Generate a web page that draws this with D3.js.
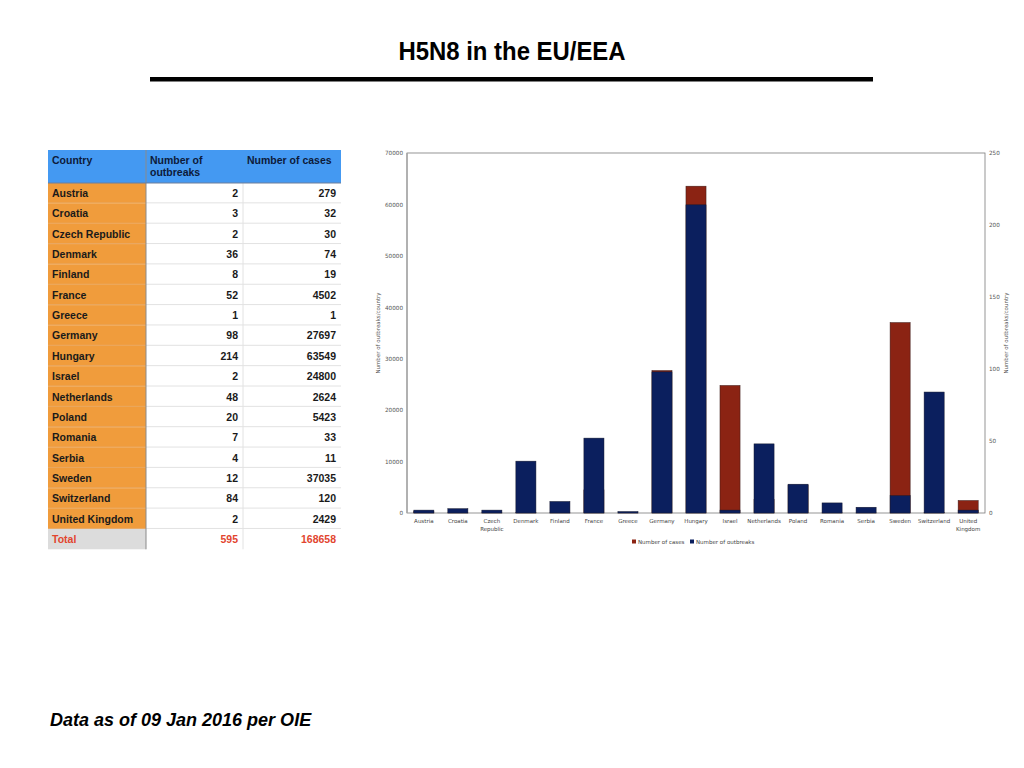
<!DOCTYPE html>
<html>
<head>
    <title>H5N8 in the EU/EEA</title>
    <meta charset="utf-8">
    <script src="https://d3js.org/d3.v7.min.js"></script>
    <style>
        body {
            margin: 0;
            background: white;
        }
        svg {
            display: block;
        }
    </style>
</head>
<body>
    <svg width="1024" height="768"></svg>

<script>

    // data, as printed in the slide's table
    let countries = ["Austria", "Croatia", "Czech Republic", "Denmark", "Finland", "France", "Greece",
        "Germany", "Hungary", "Israel", "Netherlands", "Poland", "Romania", "Serbia", "Sweden",
        "Switzerland", "United Kingdom"]
    let outbreaks = [2, 3, 2, 36, 8, 52, 1, 98, 214, 2, 48, 20, 7, 4, 12, 84, 2]
    let cases = [279, 32, 30, 74, 19, 4502, 1, 27697, 63549, 24800, 2624, 5423, 33, 11, 37035, 120, 2429]
    let leftTicks = [0, 10000, 20000, 30000, 40000, 50000, 60000, 70000]
    let rightTicks = [0, 50, 100, 150, 200, 250]
    let headers = ["Country", "Number of|outbreaks", "Number of cases"]

    let svg = d3.select("svg")
    let font = "'Liberation Sans', Arial, sans-serif"

    // title + rule
    svg.append("text")
        .text("H5N8 in the EU/EEA")
        .attr("x", 512)
        .attr("y", 60)
        .attr("text-anchor", "middle")
        .attr("font-family", font)
        .attr("font-weight", "bold")
        .attr("font-size", "26px")
        .attr("transform", "translate(512,0) scale(0.92,1) translate(-512,0)")

    svg.append("rect")
        .attr("x", 150).attr("y", 77)
        .attr("width", 723).attr("height", 4.5)
        .attr("fill", "black")

    // ---------- table ----------
    let colX = [48, 146, 243, 341]
    let headTop = 150, headH = 33, rowH = 20.35
    let tbl = svg.append("g").attr("font-family", font).attr("font-weight", "bold").attr("font-size", "10.5px")

    tbl.append("rect")
        .attr("x", colX[0]).attr("y", headTop)
        .attr("width", colX[3] - colX[0]).attr("height", headH)
        .attr("fill", "#4499f2")

    headers.forEach((h, i) => {
        let t = tbl.append("text")
            .attr("x", colX[i] + 4)
            .attr("y", headTop + 14)
            .attr("fill", "#0d1b3a")
        h.split("|").forEach((line, j) => {
            t.append("tspan").attr("x", colX[i] + 4).attr("dy", j == 0 ? 0 : 12).text(line)
        })
    })

    let rows = countries.map((c, i) => ({ name: c, o: outbreaks[i], c: cases[i] }))
    rows.push({ name: "Total", o: d3.sum(outbreaks), c: d3.sum(cases), total: true })

    let rowG = tbl.selectAll(".row")
        .data(rows)
        .join("g")
        .attr("class", "row")
        .attr("transform", (d, i) => "translate(0," + (headTop + headH + i * rowH) + ")")

    rowG.append("rect")
        .attr("x", colX[0]).attr("width", colX[1] - colX[0]).attr("height", rowH)
        .attr("fill", d => d.total ? "#dcdcdc" : "#f09c3c")

    rowG.append("line")
        .attr("x1", colX[1]).attr("x2", colX[3])
        .attr("y1", rowH - 0.5).attr("y2", rowH - 0.5)
        .attr("stroke", "#e2e2e2")
        .style("display", d => d.total ? "none" : null)

    rowG.append("line")
        .attr("x1", colX[0]).attr("x2", colX[1])
        .attr("y1", rowH - 0.5).attr("y2", rowH - 0.5)
        .attr("stroke", "#e8a863")
        .style("display", d => d.total ? "none" : null)

    rowG.append("text").text(d => d.name)
        .attr("x", colX[0] + 4).attr("y", 14)
        .attr("fill", d => d.total ? "#e2452f" : "#1a1a1a")

    rowG.append("text").text(d => d.o)
        .attr("x", colX[2] - 5).attr("y", 14)
        .attr("text-anchor", "end")
        .attr("fill", d => d.total ? "#e2452f" : "#1a1a1a")

    rowG.append("text").text(d => d.c)
        .attr("x", colX[3] - 5).attr("y", 14)
        .attr("text-anchor", "end")
        .attr("fill", d => d.total ? "#e2452f" : "#1a1a1a")

    // column separators
    let tableBottom = headTop + headH + rows.length * rowH
    tbl.append("line")
        .attr("x1", colX[1]).attr("x2", colX[1])
        .attr("y1", headTop).attr("y2", tableBottom)
        .attr("stroke", "#8a8a8a").attr("stroke-width", 1)
    tbl.append("line")
        .attr("x1", colX[2]).attr("x2", colX[2])
        .attr("y1", headTop + headH).attr("y2", tableBottom)
        .attr("stroke", "#e2e2e2")
    tbl.append("line")
        .attr("x1", colX[0]).attr("x2", colX[3])
        .attr("y1", headTop + headH).attr("y2", headTop + headH)
        .attr("stroke", "#6c7f99").attr("stroke-width", 1.2)

    // ---------- chart ----------
    let plot = { left: 407, right: 985, top: 153, bottom: 513 }

    let x = d3.scaleBand()
        .domain(countries)
        .range([plot.left, plot.right])
        .paddingInner(0.41)
        .paddingOuter(0.2)

    let yCases = d3.scaleLinear().domain([0, 70000]).range([plot.bottom, plot.top])
    let yOut = d3.scaleLinear().domain([0, 250]).range([plot.bottom, plot.top])

    let chart = svg.append("g")

    // frame
    chart.append("rect")
        .attr("x", plot.left).attr("y", plot.top)
        .attr("width", plot.right - plot.left).attr("height", plot.bottom - plot.top)
        .attr("fill", "none").attr("stroke", "#7a7a7a").attr("stroke-width", 0.8)
    chart.append("line")
        .attr("x1", plot.left).attr("x2", plot.left)
        .attr("y1", plot.top).attr("y2", plot.bottom)
        .attr("stroke", "#a8a8a8").attr("stroke-width", 1.5)

    // cases bars (left axis), outbreaks drawn over them (right axis)
    chart.append("g")
        .selectAll("rect")
        .data(cases)
        .join("rect")
        .attr("x", (d, i) => x(countries[i]))
        .attr("width", x.bandwidth())
        .attr("y", d => yCases(d))
        .attr("height", d => plot.bottom - yCases(d))
        .attr("fill", "#8b2313")
        .attr("stroke", "#3a1a18").attr("stroke-width", 0.5)

    chart.append("g")
        .selectAll("rect")
        .data(outbreaks)
        .join("rect")
        .attr("x", (d, i) => x(countries[i]))
        .attr("width", x.bandwidth())
        .attr("y", d => yOut(d))
        .attr("height", d => plot.bottom - yOut(d))
        .attr("fill", "#0b1f5e")
        .attr("stroke", "#15182e").attr("stroke-width", 0.5)

    let axisFont = "'DejaVu Sans', sans-serif"

    let leftAxis = chart.append("g")
        .attr("transform", "translate(" + (plot.left - 4) + ",0)")
        .call(d3.axisLeft(yCases).tickValues(leftTicks).tickSize(0).tickPadding(0).tickFormat(d3.format("d")))
    leftAxis.select(".domain").remove()
    leftAxis.selectAll("text").attr("font-family", axisFont).attr("font-size", "5.7px").attr("fill", "#555")

    let rightAxis = chart.append("g")
        .attr("transform", "translate(" + (plot.right + 4) + ",0)")
        .call(d3.axisRight(yOut).tickValues(rightTicks).tickSize(0).tickPadding(0).tickFormat(d3.format("d")))
    rightAxis.select(".domain").remove()
    rightAxis.selectAll("text").attr("font-family", axisFont).attr("font-size", "5.7px").attr("fill", "#555")

    let bottomAxis = chart.append("g")
        .attr("transform", "translate(0," + plot.bottom + ")")
        .call(d3.axisBottom(x).tickSize(0).tickPadding(7).tickFormat(""))
    bottomAxis.select(".domain").remove()
    bottomAxis.selectAll(".tick").each(function (d) {
        let parts = d.split(" ")
        let t = d3.select(this).append("text")
            .attr("y", 10)
            .attr("text-anchor", "middle")
            .attr("font-family", axisFont)
            .attr("font-size", "5.5px")
            .attr("fill", "#444")
        parts.forEach((p, j) => {
            t.append("tspan").attr("x", 0).attr("dy", j == 0 ? 0 : 8).text(p)
        })
    })

    // axis titles
    chart.append("text")
        .text("Number of outbreaks/country")
        .attr("transform", "translate(380,333) rotate(-90)")
        .attr("text-anchor", "middle")
        .attr("font-family", axisFont).attr("font-size", "5.5px").attr("fill", "#555")
    chart.append("text")
        .text("Number of outbreaks/country")
        .attr("transform", "translate(1008,333) rotate(-90)")
        .attr("text-anchor", "middle")
        .attr("font-family", axisFont).attr("font-size", "5.5px").attr("fill", "#555")

    // legend
    let legendItems = [
        { label: "Number of cases", color: "#8b2313", x: 632 },
        { label: "Number of outbreaks", color: "#0b1f5e", x: 690 }
    ]
    let lg = chart.append("g").selectAll("g")
        .data(legendItems)
        .join("g")
        .attr("transform", d => "translate(" + d.x + ",540)")
    lg.append("rect").attr("width", 4).attr("height", 4).attr("y", -0.5).attr("fill", d => d.color)
    lg.append("text").text(d => d.label)
        .attr("x", 6).attr("y", 3.7)
        .attr("font-family", axisFont).attr("font-size", "5.5px").attr("fill", "#444")

    // footnote
    svg.append("text")
        .text("Data as of 09 Jan 2016 per OIE")
        .attr("x", 50).attr("y", 726)
        .attr("font-family", font)
        .attr("font-weight", "bold")
        .attr("font-style", "italic")
        .attr("font-size", "18px")

</script>
</body>
</html>
